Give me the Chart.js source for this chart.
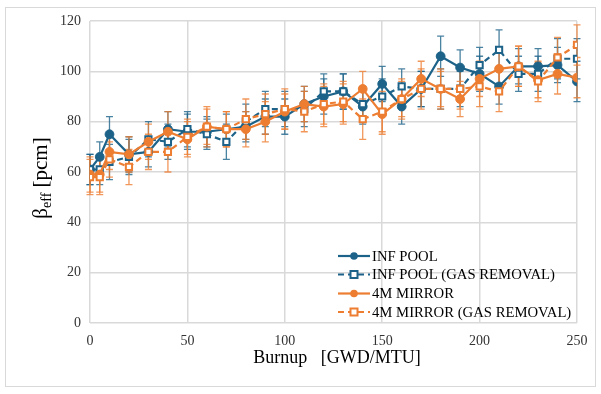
<!DOCTYPE html>
<html><head><meta charset="utf-8">
<script src="https://cdn.jsdelivr.net/npm/chart.js@4/dist/chart.umd.min.js"></script>
<style>
html,body{margin:0;padding:0;background:#fff;}
#wrap{position:relative;width:601px;height:394px;}
#frame{position:absolute;left:5px;top:7px;width:591px;height:380px;border:1px solid #d9d9d9;box-sizing:border-box;pointer-events:none;}
</style></head>
<body><div id="wrap"><canvas id="c" width="601" height="394"></canvas><div id="frame"></div></div>
<script>
const burnup = [0,5,10,20,30,40,50,60,70,80,90,100,110,120,130,140,150,160,170,180,190,200,210,220,230,240,250];
const infPool = [61,66,75,67,68,77,76,76,77,78,82,82,87,90,92,86,95,86,93,106,101.5,99,94,102,102,102.5,96];
const infPoolGas = [61,61,64,66,73,72,77,75,72,80,85,85,85,92,92,87,90,94,93,93,93,102.5,108.5,99,99,105,105];
const mirror = [59,59,68,67,72,76,73,78,77,77,80,84,87,86,87,93,83,89,97,93,89,97,101,102,96.5,99,97.5];
const mirrorGas = [58,58,65,62,68,68,74,78,77,81,83,85,84,87,88,81,84,89,93,93,93,94,92,102,96,105.5,110.5];
const infPoolErr = [6,6,7,7,6,7,7,6,6,6,7,7,7,7,7,7,7,7,7,8,7,7,7,7,7,7,8];
const infPoolGasErr = [6,6,7,7,7,7,7,6,7,7,7,7,7,7,7,7,7,7,7,8,7,7,8,7,7,8,8];
const mirrorErr = [7,7,7,7,7,8,7,7,7,7,8,7,7,8,8,7,8,7,7,7,7,7,8,8,7,8,8];
const mirrorGasErr = [7,7,7,7,7,8,7,8,7,8,8,8,8,8,8,8,8,8,8,8,8,8,8,8,8,8,8];
const seriesLabels = ['INF POOL','INF POOL (GAS REMOVAL)','4M MIRROR','4M MIRROR (GAS REMOVAL)'];
const yTicks = [0,20,40,60,80,100,120];
const xTicks = [0,50,100,150,200,250];

const BLUE = '#1d6389';
const ORANGE = '#ed7d31';
const SERIF = '"Liberation Serif","Times New Roman",serif';

function pts(vals){ return burnup.map((b,i)=>({x:b,y:vals[i]})); }

function makeDs(label, vals, errs, color, gas, order){
  return {
    label, data: pts(vals), errors: errs, order,
    borderColor: color, backgroundColor: gas ? '#ffffff' : color,
    borderWidth: 2.2, borderDash: gas ? [6,4] : [],
    pointStyle: gas ? 'rect' : 'circle',
    pointRadius: 4.4, pointBorderWidth: gas ? 2 : 1,
    pointBackgroundColor: gas ? '#ffffff' : color,
    pointBorderColor: color,
    errColor: color, fill:false, tension:0
  };
}

const errorBars = {
  id:'errorBars',
  beforeDatasetsDraw(chart){
    const ctx = chart.ctx, xs = chart.scales.x, ys = chart.scales.y;
    chart.data.datasets.forEach((ds)=>{
      ctx.save();
      ctx.strokeStyle = ds.errColor;
      ctx.globalAlpha = 0.8;
      ctx.lineWidth = 1.3;
      ds.data.forEach((p,j)=>{
        const e = ds.errors[j];
        const px = xs.getPixelForValue(p.x);
        const yt = ys.getPixelForValue(p.y + e);
        const yb = ys.getPixelForValue(p.y - e);
        ctx.beginPath();
        ctx.moveTo(px, yt); ctx.lineTo(px, yb);
        ctx.moveTo(px-3.5, yt); ctx.lineTo(px+3.5, yt);
        ctx.moveTo(px-3.5, yb); ctx.lineTo(px+3.5, yb);
        ctx.stroke();
      });
      ctx.restore();
    });
  }
};

const titles = {
  id:'titles',
  afterDraw(chart){
    const ctx = chart.ctx;
    ctx.save();
    ctx.fillStyle = '#000';
    // x title
    ctx.font = '18px ' + SERIF;
    ctx.textAlign = 'center'; ctx.textBaseline = 'middle';
    ctx.fillText('Burnup   [GWD/MTU]', 337, 358);
    // y title with subscript
    ctx.translate(40, 178);
    ctx.rotate(-Math.PI/2);
    const big = '21px ' + SERIF, small = '14px ' + SERIF;
    ctx.font = big; const w1 = ctx.measureText('β').width;
    ctx.font = small; const w2 = ctx.measureText('eff').width;
    ctx.font = big; const w3 = ctx.measureText(' [pcm]').width;
    let sx = -(w1+w2+w3)/2;
    ctx.textAlign = 'left'; ctx.textBaseline = 'alphabetic';
    ctx.font = big; ctx.fillText('β', sx, 7); sx += w1;
    ctx.font = small; ctx.fillText('eff', sx, 11); sx += w2;
    ctx.font = big; ctx.fillText(' [pcm]', sx, 7);
    ctx.restore();
    // legend
    ctx.save();
    const rows = [256, 274.5, 293.5, 312];
    chart.data.datasets.forEach((ds,i)=>{
      const y = rows[i];
      ctx.strokeStyle = ds.borderColor; ctx.lineWidth = 2.2;
      ctx.setLineDash(ds.borderDash);
      ctx.beginPath(); ctx.moveTo(338, y); ctx.lineTo(370, y); ctx.stroke();
      ctx.setLineDash([]);
      ctx.lineWidth = 2;
      if (ds.pointStyle === 'rect'){
        ctx.fillStyle = '#fff';
        ctx.fillRect(350.5, y-3.5, 7, 7);
        ctx.strokeRect(350.5, y-3.5, 7, 7);
      } else {
        ctx.fillStyle = ds.borderColor;
        ctx.beginPath(); ctx.arc(354, y, 3.8, 0, Math.PI*2); ctx.fill();
      }
      ctx.fillStyle = '#000';
      ctx.font = '14.7px ' + SERIF;
      ctx.textAlign = 'left'; ctx.textBaseline = 'middle';
      ctx.fillText(ds.label, 372, y+1);
    });
    ctx.restore();
  }
};

new Chart(document.getElementById('c'), {
  type:'line',
  data:{ datasets:[
    makeDs(seriesLabels[0], infPool, infPoolErr, BLUE, false, 4),
    makeDs(seriesLabels[1], infPoolGas, infPoolGasErr, BLUE, true, 3),
    makeDs(seriesLabels[2], mirror, mirrorErr, ORANGE, false, 2),
    makeDs(seriesLabels[3], mirrorGas, mirrorGasErr, ORANGE, true, 1)
  ]},
  options:{
    responsive:false, animation:false,
    layout:{ padding:{ left:0, top:21, right:24, bottom:0 } },
    plugins:{ legend:{display:false}, tooltip:{enabled:false} },
    scales:{
      x:{
        type:'linear', min:0, max:250,
        afterBuildTicks(s){ s.ticks = xTicks.map(v=>({value:v})); },
        afterFit(s){ s.height = 71; },
        grid:{ color:'#d9d9d9', lineWidth:1.5, drawTicks:false },
        border:{ display:false },
        ticks:{ font:{family:SERIF, size:14}, color:'#333', padding:10 }
      },
      y:{
        type:'linear', min:0, max:120,
        afterBuildTicks(s){ s.ticks = yTicks.map(v=>({value:v})); },
        afterFit(s){ s.width = 90; },
        grid:{ color:'#d9d9d9', lineWidth:1.5, drawTicks:false },
        border:{ display:false },
        ticks:{ font:{family:SERIF, size:14}, color:'#333', padding:9 }
      }
    }
  },
  plugins:[errorBars, titles]
});
</script>
</body></html>
